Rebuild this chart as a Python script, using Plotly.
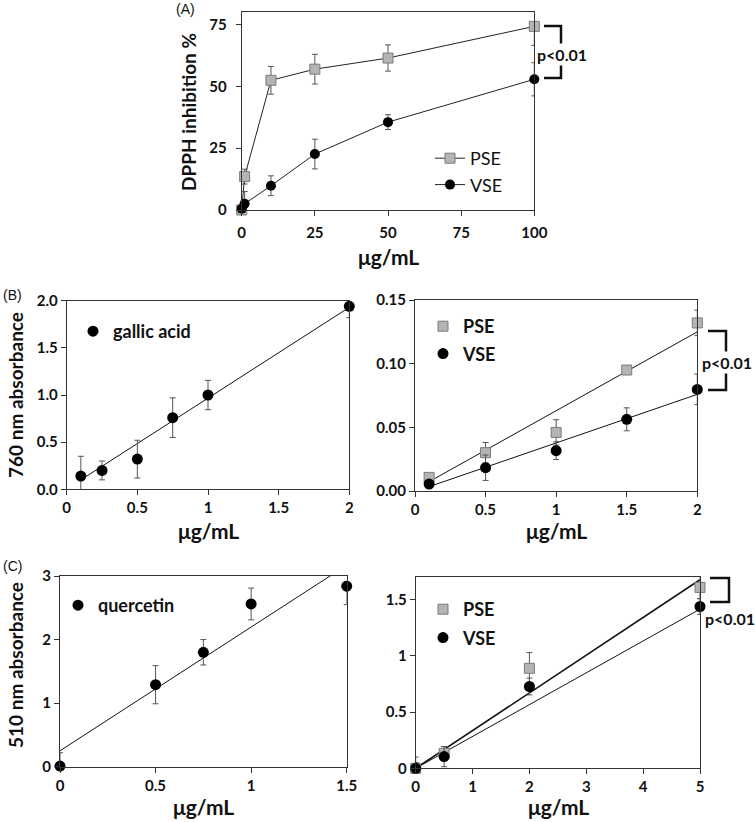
import plotly.graph_objects as go

W, H = 755, 822

# ---------------- data ----------------
# Panel A: DPPH inhibition
a_x = [0, 1, 10, 25, 50, 100]
a_pse = [0, 13.5, 52.4, 56.9, 61.4, 74.2]
a_pse_up = [1, 3, 5.6, 6, 5.3, 0]
a_pse_dn = [1, 3, 5.6, 6, 5.3, 7.7]
a_vse = [0.5, 2.5, 9.8, 22.6, 35.5, 52.8]
a_vse_err = [0.5, 5, 4, 6, 3, 6.7]
a_xticks = [0, 25, 50, 75, 100]
a_yticks = [0, 25, 50, 75]

# Panel B left: gallic acid standard
b1_x = [0.1, 0.25, 0.5, 0.75, 1, 2]
b1_gallic = [0.14, 0.2, 0.32, 0.76, 1.0, 1.94]
b1_up = [0.21, 0.1, 0.2, 0.21, 0.155, 0]
b1_dn = [0.21, 0.1, 0.2, 0.21, 0.155, 0.12]
b1_fit_x = [0.1, 2]
b1_fit_y = [0.1, 1.93]
b1_yticks = [0, 0.5, 1.0, 1.5, 2.0]
b1_ylabels = ["0.0", "0.5", "1.0", "1.5", "2.0"]
b_xticks = [0, 0.5, 1, 1.5, 2]
b_xlabels = ["0", "0.5", "1", "1.5", "2"]

# Panel B right: PSE / VSE phenolics
b2_x = [0.1, 0.5, 1, 1.5, 2]
b2_pse = [0.0107, 0.0301, 0.046, 0.095, 0.132]
b2_pse_err = [0.003, 0.008, 0.01, 0.003, 0.01]
b2_vse = [0.0055, 0.0183, 0.0317, 0.0563, 0.0798]
b2_vse_err = [0.002, 0.01, 0.007, 0.009, 0.012]
b2_fit_x = [0.1, 2]
b2_pse_fit = [0.0073, 0.125]
b2_vse_fit = [0.0034, 0.0759]
b2_yticks = [0, 0.05, 0.10, 0.15]
b2_ylabels = ["0.00", "0.05", "0.10", "0.15"]

# Panel C left: quercetin standard
c1_x = [0, 0.5, 0.75, 1, 1.5]
c1_querc = [0.01, 1.29, 1.8, 2.56, 2.84]
c1_up = [0.21, 0.3, 0.2, 0.25, 0]
c1_dn = [0.01, 0.3, 0.2, 0.25, 0.29]
c1_fit_x = [0, 1.5]
c1_fit_y = [0.25, 3.17]
c1_xticks = [0, 0.5, 1, 1.5]
c1_yticks = [0, 1, 2, 3]

# Panel C right: PSE / VSE flavonoids
c2_x = [0, 0.5, 2, 5]
c2_pse = [0, 0.134, 0.89, 1.61]
c2_pse_err = [0.1, 0.06, 0.14, 0.1]
c2_vse = [0, 0.104, 0.728, 1.44]
c2_vse_err = [0.05, 0.09, 0.075, 0.07]
c2_fit_x = [0, 5]
c2_pse_fit = [0, 1.678]
c2_vse_fit = [0, 1.417]
c2_xticks = [0, 1, 2, 3, 4, 5]
c2_yticks = [0, 0.5, 1, 1.5]
c2_ylabels = ["0", "0.5", "1", "1.5"]

# ---------------- helpers ----------------
def px(x):
    return x / W

def py(y):
    return 1 - y / H

GRAY_FILL = "#b4b4b4"
GRAY_EDGE = "#7a7a7a"
ERR = dict(color="#555555", thickness=1, width=3)
TICKFONT = dict(family="Lato", size=15, color="#111", weight="bold")

fig = go.Figure()

def err(up, dn=None):
    d = dict(type="data", array=up, visible=True, **ERR)
    if dn is not None:
        d["symmetric"] = False
        d["arrayminus"] = dn
    return d

pse_marker = dict(symbol="square", size=10, color=GRAY_FILL, line=dict(color=GRAY_EDGE, width=1))
vse_marker = dict(symbol="circle", size=11, color="#000")

# Panel A
fig.add_trace(go.Scatter(x=a_x, y=a_pse, mode="lines+markers", name="PSE",
                         line=dict(color="#222", width=1), marker=pse_marker,
                         error_y=err(a_pse_up, a_pse_dn), xaxis="x", yaxis="y",
                         legend="legend", legendgroup="a1", cliponaxis=False))
fig.add_trace(go.Scatter(x=a_x, y=a_vse, mode="lines+markers", name="VSE",
                         line=dict(color="#222", width=1), marker=dict(vse_marker, size=10),
                         error_y=err(a_vse_err), xaxis="x", yaxis="y",
                         legend="legend", legendgroup="a2", cliponaxis=False))

# Panel B left
fig.add_trace(go.Scatter(x=b1_fit_x, y=b1_fit_y, mode="lines", line=dict(color="#111", width=1),
                         showlegend=False, xaxis="x2", yaxis="y2", hoverinfo="skip"))
fig.add_trace(go.Scatter(x=b1_x, y=b1_gallic, mode="markers", name="gallic acid",
                         marker=vse_marker, error_y=err(b1_up, b1_dn),
                         xaxis="x2", yaxis="y2", legend="legend2", cliponaxis=False))

# Panel B right
fig.add_trace(go.Scatter(x=b2_fit_x, y=b2_pse_fit, mode="lines", line=dict(color="#111", width=1),
                         showlegend=False, xaxis="x3", yaxis="y3", hoverinfo="skip"))
fig.add_trace(go.Scatter(x=b2_fit_x, y=b2_vse_fit, mode="lines", line=dict(color="#111", width=1),
                         showlegend=False, xaxis="x3", yaxis="y3", hoverinfo="skip"))
fig.add_trace(go.Scatter(x=b2_x, y=b2_pse, mode="markers", name="PSE", marker=pse_marker,
                         error_y=err(b2_pse_err), xaxis="x3", yaxis="y3",
                         legend="legend3", legendgroup="b1", cliponaxis=False))
fig.add_trace(go.Scatter(x=b2_x, y=b2_vse, mode="markers", name="VSE", marker=vse_marker,
                         error_y=err(b2_vse_err), xaxis="x3", yaxis="y3",
                         legend="legend3", legendgroup="b2", cliponaxis=False))

# Panel C left
fig.add_trace(go.Scatter(x=c1_fit_x, y=c1_fit_y, mode="lines", line=dict(color="#111", width=1),
                         showlegend=False, xaxis="x4", yaxis="y4", hoverinfo="skip"))
fig.add_trace(go.Scatter(x=c1_x, y=c1_querc, mode="markers", name="quercetin",
                         marker=vse_marker, error_y=err(c1_up, c1_dn),
                         xaxis="x4", yaxis="y4", legend="legend4", cliponaxis=False))

# Panel C right
fig.add_trace(go.Scatter(x=c2_fit_x, y=c2_pse_fit, mode="lines", line=dict(color="#111", width=1.6),
                         showlegend=False, xaxis="x5", yaxis="y5", hoverinfo="skip"))
fig.add_trace(go.Scatter(x=c2_fit_x, y=c2_vse_fit, mode="lines", line=dict(color="#111", width=1),
                         showlegend=False, xaxis="x5", yaxis="y5", hoverinfo="skip"))
fig.add_trace(go.Scatter(x=c2_x, y=c2_pse, mode="markers", name="PSE", marker=pse_marker,
                         error_y=err(c2_pse_err), xaxis="x5", yaxis="y5",
                         legend="legend5", legendgroup="c1", cliponaxis=False))
fig.add_trace(go.Scatter(x=c2_x, y=c2_vse, mode="markers", name="VSE", marker=vse_marker,
                         error_y=err(c2_vse_err), xaxis="x5", yaxis="y5",
                         legend="legend5", legendgroup="c2", cliponaxis=False))


def xax(x0, x1, rng, ticks, labels=None, anchor="y", standoff=0):
    d = dict(domain=[px(x0), px(x1)], range=rng, tickvals=ticks, anchor=anchor,
             showline=True, linecolor="#333", linewidth=1, mirror=True,
             ticks="outside", ticklen=5, tickcolor="#333", tickfont=TICKFONT,
             ticklabelstandoff=standoff,
             showgrid=False, zeroline=False, fixedrange=True, automargin=False)
    if labels is not None:
        d["ticktext"] = labels
    return d


def yax(y0, y1, rng, ticks, labels=None, anchor="x", standoff=0):
    d = dict(domain=[py(y1), py(y0)], range=rng, tickvals=ticks, anchor=anchor,
             showline=True, linecolor="#333", linewidth=1, mirror=True,
             ticks="outside", ticklen=5, tickcolor="#333", tickfont=TICKFONT,
             ticklabelstandoff=standoff,
             showgrid=False, zeroline=False, fixedrange=True, automargin=False)
    if labels is not None:
        d["ticktext"] = labels
    return d


LEG_BASE = dict(xanchor="left", yanchor="top", bgcolor="rgba(0,0,0,0)", borderwidth=0,
                itemwidth=30, traceorder="grouped")
LEGFONT_B = dict(family="Lato", size=18, color="#111", weight="bold")

fig.update_layout(
    width=W, height=H, margin=dict(l=0, r=0, t=0, b=0, autoexpand=False),
    paper_bgcolor="white", plot_bgcolor="white",
    font=dict(family="Lato", color="#111"),
    xaxis=xax(241.7, 534.3, [0, 100], a_xticks, anchor="y", standoff=4),
    yaxis=yax(12, 210, [0, 80], a_yticks, anchor="x", standoff=6),
    xaxis2=xax(66.7, 349.3, [0, 2], b_xticks, b_xlabels, anchor="y2"),
    yaxis2=yax(300.7, 489.3, [0, 2], b1_yticks, b1_ylabels, anchor="x2"),
    xaxis3=xax(415, 697.3, [0, 2], b_xticks, b_xlabels, anchor="y3"),
    yaxis3=yax(300, 491, [0, 0.15], b2_yticks, b2_ylabels, anchor="x3"),
    xaxis4=xax(60, 346.7, [0, 1.5], c1_xticks, anchor="y4"),
    yaxis4=yax(576, 766.7, [0, 3], c1_yticks, anchor="x4"),
    xaxis5=xax(415.7, 700, [0, 5], c2_xticks, anchor="y5"),
    yaxis5=yax(577.3, 768.3, [0, 1.7], c2_yticks, c2_ylabels, anchor="x5"),
    legend=dict(LEG_BASE, x=px(430), y=py(140), tracegroupgap=0,
                font=dict(family="Lato", size=18, color="#111")),
    legend2=dict(LEG_BASE, x=px(73), y=py(313), font=LEGFONT_B),
    legend3=dict(LEG_BASE, x=px(423), y=py(308), tracegroupgap=1, font=LEGFONT_B),
    legend4=dict(LEG_BASE, x=px(58), y=py(587), font=LEGFONT_B),
    legend5=dict(LEG_BASE, x=px(423), y=py(591), tracegroupgap=2, font=LEGFONT_B),
    showlegend=True,
)

TITLEFONT = dict(family="Lato", size=19, color="#111", weight="bold")
XTFONT = dict(family="Lato", size=21, color="#111", weight="bold")
ann = []
# y titles
ann.append(dict(text="DPPH inhibition %", x=px(188), y=py(112), textangle=-90, font=TITLEFONT))
ann.append(dict(text="760 nm absorbance", x=px(15), y=py(395), textangle=-90, font=TITLEFONT))
ann.append(dict(text="510 nm absorbance", x=px(15), y=py(665), textangle=-90, font=TITLEFONT))
# x titles
for cx, cy in [(388, 256), (208, 530), (556, 530), (203, 806), (558, 806)]:
    ann.append(dict(text="μg/mL", x=px(cx), y=py(cy), font=XTFONT))
# panel letters
PLFONT = dict(family="Liberation Sans", size=14, color="#111")
ann.append(dict(text="(A)", x=px(185), y=py(9), font=PLFONT))
ann.append(dict(text="(B)", x=px(12), y=py(295), font=PLFONT))
ann.append(dict(text="(C)", x=px(12), y=py(566), font=PLFONT))

shapes = []

def bracket(xl, xr, yt, yb):
    path = f"M {px(xl)},{py(yt)} L {px(xr)},{py(yt)} L {px(xr)},{py(yb)} L {px(xl)},{py(yb)}"
    shapes.append(dict(type="path", xref="paper", yref="paper", path=path,
                       line=dict(color="#111", width=2.5)))

PFONT = dict(family="Lato", size=16, color="#111", weight="bold")
bracket(544, 561, 26, 78)
ann.append(dict(text="p<0.01", x=px(562), y=py(55), font=PFONT, bgcolor="white"))
bracket(708, 726, 331, 390)
ann.append(dict(text="p<0.01", x=px(727), y=py(362), font=PFONT, bgcolor="white"))
bracket(710, 729, 578, 602)
ann.append(dict(text="p<0.01", x=px(730), y=py(618), font=PFONT))

for a in ann:
    a.update(xref="paper", yref="paper", showarrow=False, xanchor="center", yanchor="middle")

fig.update_layout(annotations=ann, shapes=shapes)
fig.write_html("out.html", config={"displayModeBar": False},
               post_script="document.body.style.margin='0';document.body.style.overflow='hidden';")
